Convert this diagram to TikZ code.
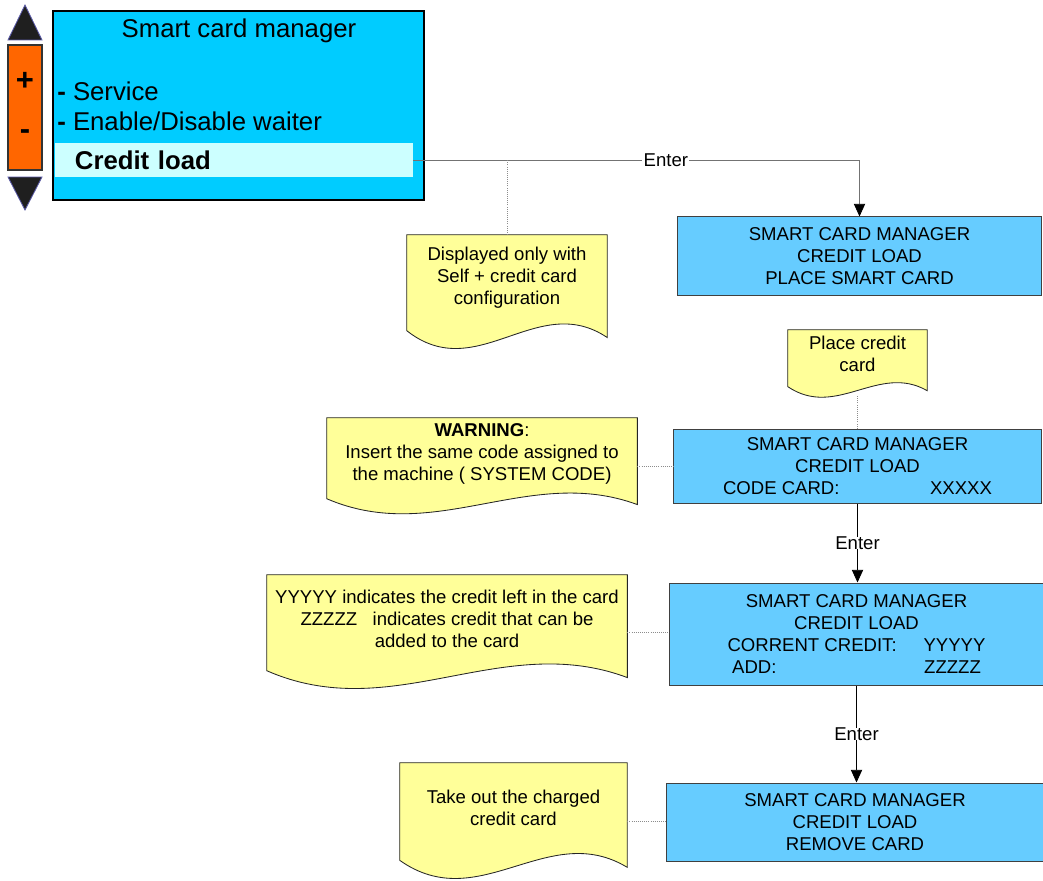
\documentclass[tikz,border=0pt]{standalone}
\usepackage{fontspec}
\setmainfont{Liberation Sans}
\usetikzlibrary{arrows.meta,positioning,calc}

\definecolor{panelcyan}{HTML}{00CCFF}
\definecolor{barcyan}{HTML}{CCFFFF}
\definecolor{boxblue}{HTML}{66CCFF}
\definecolor{noteyellow}{HTML}{FFFF99}
\definecolor{keyorange}{HTML}{FF6600}

% wavy bottom of a note, drawn round a named node
\newcommand\notewave[1]{%
  \filldraw[notebg] let \p1=(#1.south west), \p2=(#1.north east),
      \n1={\y2-\y1}, \n2={\x2-\x1} in
    (\x1,\y2) -- (\x2,\y2) -- (\x2,\y1+0.11*\n1)
    .. controls (\x1+0.65*\n2,\y1+0.52*\n1) and (\x1+0.35*\n2,\y1-0.31*\n1) .. (\x1,\y1+0.17*\n1)
    -- cycle;}

\begin{document}
\begin{tikzpicture}[
    x=0.025cm, y=-0.025cm,
    menupanel/.style={draw=black, fill=panelcyan, line width=1.6pt},
    keypad/.style={draw=black!80, fill=keyorange, line width=1.4pt},
    button/.style={draw=blue!30!gray, fill=black!88, line width=0.6pt},
    menutext/.style={inner sep=0pt, font=\fontsize{18.3}{21.5}\selectfont},
    screen/.style={draw=black!75, fill=boxblue, line width=0.7pt, align=center, font=\fontsize{13.2}{15.6}\selectfont},
    note/.style={inner sep=0pt},
    notebg/.style={draw=black!85, fill=noteyellow, line width=0.6pt},
    notetext/.style={align=center, font=\fontsize{13.2}{15.6}\selectfont},
    flow/.style={-{Triangle[length=9pt,width=8pt,color=black]}, line width=0.6pt},
    hint/.style={densely dotted, black!45, line width=0.5pt},
    lbl/.style={fill=white, inner xsep=1pt, inner ysep=0pt, font=\fontsize{13.2}{15.6}\selectfont},
  ]
    \useasboundingbox (0,0) rectangle (1043,880);

    % Keys
    \filldraw[button] (8,40) -- (42,40) -- (25,5) -- cycle;
    \filldraw[button] (8,177) -- (42,177) -- (25,210) -- cycle;
    \node[keypad, minimum width=0.85cm, minimum height=3.125cm] (keys) at (25,107.5) {};
    \node[font=\fontsize{22}{22}\bfseries] (plus) at (25,81) {+};
    \node[font=\fontsize{22}{22}\bfseries] (minus) at (25,135) {-};

    % Menu
    \node[menupanel, minimum width=9.275cm, minimum height=4.725cm] (menu) at (238.5,105.5) {};
    \node[menutext] (title) at (239,31) {Smart card manager};
    \node[menutext, anchor=west] (service) at (57,91) {\textbf{-} Service};
    \node[menutext, anchor=west] (waiter) at (57,121) {\textbf{-} Enable/Disable waiter};
    \node[menutext, fill=barcyan, minimum width=8.95cm, minimum height=0.85cm, text width=7.95cm,
      inner xsep=0.5cm, align=left, font=\fontsize{18.3}{21.5}\bfseries] (credit) at (234,160) {Credit load};

    % Screens
    \node[screen, minimum width=9.075cm, minimum height=1.95cm] (place) at (859.5,256)
      {SMART CARD MANAGER\\CREDIT LOAD\\PLACE SMART CARD};
    \node[screen, minimum width=9.175cm, minimum height=1.85cm] (code) at (857.5,466)
      {SMART CARD MANAGER\\CREDIT LOAD\\\makebox[5.175cm][l]{CODE CARD:}XXXXX};
    \node[screen, minimum width=9.325cm, minimum height=2.55cm] (add) at (856.5,634)
      {SMART CARD MANAGER\\CREDIT LOAD\\\makebox[4.9cm][l]{CORRENT CREDIT:}YYYYY\\\makebox[4.8cm][l]{ADD:}ZZZZZ};
    \node[screen, minimum width=9.4cm, minimum height=1.95cm] (remove) at (855,822)
      {SMART CARD MANAGER\\CREDIT LOAD\\REMOVE CARD};

    % Notes
    \node[note, minimum width=5cm, minimum height=2.875cm] (config) at (507,292.5) {};
    \notewave{config}
    \node[notetext] (configtxt) at ($(config.north)!0.375!(config.south)$)
      {Displayed only with\\Self + credit card\\configuration};
    \node[note, minimum width=3.475cm, minimum height=1.7cm] (insert) at (857.5,364) {};
    \notewave{insert}
    \node[notetext] (inserttxt) at ($(insert.north)!0.35!(insert.south)$) {Place credit\\card};
    \node[note, minimum width=7.75cm, minimum height=2.425cm] (warning) at (482,466.5) {};
    \notewave{warning}
    \node[notetext] (warningtxt) at ($(warning.north)!0.375!(warning.south)$)
      {\textbf{WARNING}:\\Insert the same code assigned to\\the machine ( SYSTEM CODE)};
    \node[note, minimum width=9cm, minimum height=2.875cm] (credits) at (447,632.5) {};
    \notewave{credits}
    \node[notetext] (creditstxt) at ($(credits.north)!0.38!(credits.south)$)
      {YYYYY indicates the credit left in the card\\ZZZZZ\ \ \ indicates credit that can be\\added to the card};
    \node[note, minimum width=5.675cm, minimum height=2.925cm] (takeout) at (513.5,821.5) {};
    \notewave{takeout}
    \node[notetext] (takeouttxt) at ($(takeout.north)!0.38!(takeout.south)$)
      {Take out the charged\\credit card};

    % Flow
    \draw[flow, draw=black!55] (credit.east) -| node[lbl, pos=0.283] {Enter} (place.north);
    \draw[flow] (code.south) -- node[lbl] {Enter} (code.south |- add.north);
    \draw[flow] (add.south) -- node[lbl] {Enter} (add.south |- remove.north);

    % Hints
    \draw[hint] (config.north) -- (config.north |- credit.east);
    \draw[hint] (code.north) -- ([yshift=2pt]code.north |- insert.south);
    \draw[hint] (warning.east) -- (warning.east -| code.west);
    \draw[hint] (credits.east) -- (credits.east -| add.west);
    \draw[hint] (takeout.east) -- (takeout.east -| remove.west);
  \end{tikzpicture}
\end{document}
